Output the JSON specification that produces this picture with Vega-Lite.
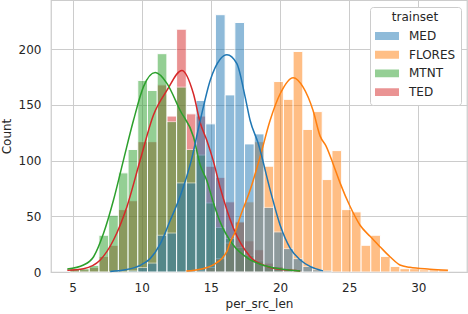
{
  "$schema": "https://vega.github.io/schema/vega-lite/v6.json",
  "width": 416,
  "height": 272,
  "autosize": {"type": "none"},
  "padding": {"left": 51, "top": 0, "right": 1, "bottom": 42},
  "config": {
    "font": "DejaVu Sans",
    "view": {"stroke": "#cccccc", "strokeWidth": 1.25},
    "axis": {
      "domain": false, "ticks": false, "tickSize": 0,
      "gridColor": "#cccccc", "gridWidth": 1,
      "labelFont": "DejaVu Sans", "labelFontSize": 12, "labelColor": "#262626",
      "titleFont": "DejaVu Sans", "titleFontSize": 12, "titleColor": "#262626", "titleFontWeight": "normal"
    }
  },
  "datasets": {
    "hist": [
      {"trainset": "TED", "bin_start": 4.800, "bin_end": 5.502, "count": 2},
      {"trainset": "TED", "bin_start": 5.502, "bin_end": 6.204, "count": 2},
      {"trainset": "TED", "bin_start": 6.204, "bin_end": 6.906, "count": 4},
      {"trainset": "TED", "bin_start": 6.906, "bin_end": 7.608, "count": 14},
      {"trainset": "TED", "bin_start": 7.608, "bin_end": 8.310, "count": 24},
      {"trainset": "TED", "bin_start": 8.310, "bin_end": 9.012, "count": 56},
      {"trainset": "TED", "bin_start": 9.012, "bin_end": 9.714, "count": 64},
      {"trainset": "TED", "bin_start": 9.714, "bin_end": 10.416, "count": 117},
      {"trainset": "TED", "bin_start": 10.416, "bin_end": 11.118, "count": 117},
      {"trainset": "TED", "bin_start": 11.118, "bin_end": 11.820, "count": 168},
      {"trainset": "TED", "bin_start": 11.820, "bin_end": 12.522, "count": 140},
      {"trainset": "TED", "bin_start": 12.522, "bin_end": 13.224, "count": 218},
      {"trainset": "TED", "bin_start": 13.224, "bin_end": 13.926, "count": 142},
      {"trainset": "TED", "bin_start": 13.926, "bin_end": 14.628, "count": 140},
      {"trainset": "TED", "bin_start": 14.628, "bin_end": 15.330, "count": 95},
      {"trainset": "TED", "bin_start": 15.330, "bin_end": 16.032, "count": 85},
      {"trainset": "TED", "bin_start": 16.032, "bin_end": 16.734, "count": 63},
      {"trainset": "TED", "bin_start": 16.734, "bin_end": 17.436, "count": 45},
      {"trainset": "TED", "bin_start": 17.436, "bin_end": 18.138, "count": 28},
      {"trainset": "TED", "bin_start": 18.138, "bin_end": 18.840, "count": 20},
      {"trainset": "TED", "bin_start": 18.840, "bin_end": 19.542, "count": 8},
      {"trainset": "TED", "bin_start": 19.542, "bin_end": 20.244, "count": 5},
      {"trainset": "TED", "bin_start": 20.244, "bin_end": 20.946, "count": 3},
      {"trainset": "TED", "bin_start": 20.946, "bin_end": 21.648, "count": 1},

      {"trainset": "MTNT", "bin_start": 4.800, "bin_end": 5.502, "count": 3},
      {"trainset": "MTNT", "bin_start": 5.502, "bin_end": 6.204, "count": 3},
      {"trainset": "MTNT", "bin_start": 6.204, "bin_end": 6.906, "count": 6},
      {"trainset": "MTNT", "bin_start": 6.906, "bin_end": 7.608, "count": 33},
      {"trainset": "MTNT", "bin_start": 7.608, "bin_end": 8.310, "count": 51},
      {"trainset": "MTNT", "bin_start": 8.310, "bin_end": 9.012, "count": 89},
      {"trainset": "MTNT", "bin_start": 9.012, "bin_end": 9.714, "count": 110},
      {"trainset": "MTNT", "bin_start": 9.714, "bin_end": 10.416, "count": 172},
      {"trainset": "MTNT", "bin_start": 10.416, "bin_end": 11.118, "count": 163},
      {"trainset": "MTNT", "bin_start": 11.118, "bin_end": 11.820, "count": 196},
      {"trainset": "MTNT", "bin_start": 11.820, "bin_end": 12.522, "count": 135},
      {"trainset": "MTNT", "bin_start": 12.522, "bin_end": 13.224, "count": 166},
      {"trainset": "MTNT", "bin_start": 13.224, "bin_end": 13.926, "count": 110},
      {"trainset": "MTNT", "bin_start": 13.926, "bin_end": 14.628, "count": 105},
      {"trainset": "MTNT", "bin_start": 14.628, "bin_end": 15.330, "count": 62},
      {"trainset": "MTNT", "bin_start": 15.330, "bin_end": 16.032, "count": 40},
      {"trainset": "MTNT", "bin_start": 16.032, "bin_end": 16.734, "count": 30},
      {"trainset": "MTNT", "bin_start": 16.734, "bin_end": 17.436, "count": 22},
      {"trainset": "MTNT", "bin_start": 17.436, "bin_end": 18.138, "count": 15},
      {"trainset": "MTNT", "bin_start": 18.138, "bin_end": 18.840, "count": 10},
      {"trainset": "MTNT", "bin_start": 18.840, "bin_end": 19.542, "count": 5},
      {"trainset": "MTNT", "bin_start": 19.542, "bin_end": 20.244, "count": 3},
      {"trainset": "MTNT", "bin_start": 20.244, "bin_end": 20.946, "count": 1},

      {"trainset": "FLORES", "bin_start": 13.224, "bin_end": 13.926, "count": 1},
      {"trainset": "FLORES", "bin_start": 13.926, "bin_end": 14.628, "count": 1},
      {"trainset": "FLORES", "bin_start": 14.628, "bin_end": 15.330, "count": 4},
      {"trainset": "FLORES", "bin_start": 15.330, "bin_end": 16.032, "count": 12},
      {"trainset": "FLORES", "bin_start": 16.032, "bin_end": 16.734, "count": 26},
      {"trainset": "FLORES", "bin_start": 16.734, "bin_end": 17.436, "count": 45},
      {"trainset": "FLORES", "bin_start": 17.436, "bin_end": 18.138, "count": 63},
      {"trainset": "FLORES", "bin_start": 18.138, "bin_end": 18.840, "count": 117},
      {"trainset": "FLORES", "bin_start": 18.840, "bin_end": 19.542, "count": 95},
      {"trainset": "FLORES", "bin_start": 19.542, "bin_end": 20.244, "count": 171},
      {"trainset": "FLORES", "bin_start": 20.244, "bin_end": 20.946, "count": 155},
      {"trainset": "FLORES", "bin_start": 20.946, "bin_end": 21.648, "count": 198},
      {"trainset": "FLORES", "bin_start": 21.648, "bin_end": 22.350, "count": 128},
      {"trainset": "FLORES", "bin_start": 22.350, "bin_end": 23.052, "count": 144},
      {"trainset": "FLORES", "bin_start": 23.052, "bin_end": 23.754, "count": 83},
      {"trainset": "FLORES", "bin_start": 23.754, "bin_end": 24.456, "count": 109},
      {"trainset": "FLORES", "bin_start": 24.456, "bin_end": 25.158, "count": 56},
      {"trainset": "FLORES", "bin_start": 25.158, "bin_end": 25.860, "count": 54},
      {"trainset": "FLORES", "bin_start": 25.860, "bin_end": 26.562, "count": 24},
      {"trainset": "FLORES", "bin_start": 26.562, "bin_end": 27.264, "count": 33},
      {"trainset": "FLORES", "bin_start": 27.264, "bin_end": 27.966, "count": 14},
      {"trainset": "FLORES", "bin_start": 27.966, "bin_end": 28.668, "count": 5},
      {"trainset": "FLORES", "bin_start": 28.668, "bin_end": 29.370, "count": 3},
      {"trainset": "FLORES", "bin_start": 29.370, "bin_end": 30.072, "count": 3},
      {"trainset": "FLORES", "bin_start": 30.072, "bin_end": 30.774, "count": 2},
      {"trainset": "FLORES", "bin_start": 30.774, "bin_end": 31.476, "count": 2},
      {"trainset": "FLORES", "bin_start": 31.476, "bin_end": 32.178, "count": 2},

      {"trainset": "MED", "bin_start": 9.012, "bin_end": 9.714, "count": 1},
      {"trainset": "MED", "bin_start": 9.714, "bin_end": 10.416, "count": 4},
      {"trainset": "MED", "bin_start": 10.416, "bin_end": 11.118, "count": 8},
      {"trainset": "MED", "bin_start": 11.118, "bin_end": 11.820, "count": 33},
      {"trainset": "MED", "bin_start": 11.820, "bin_end": 12.522, "count": 35},
      {"trainset": "MED", "bin_start": 12.522, "bin_end": 13.224, "count": 80},
      {"trainset": "MED", "bin_start": 13.224, "bin_end": 13.926, "count": 80},
      {"trainset": "MED", "bin_start": 13.926, "bin_end": 14.628, "count": 154},
      {"trainset": "MED", "bin_start": 14.628, "bin_end": 15.330, "count": 133},
      {"trainset": "MED", "bin_start": 15.330, "bin_end": 16.032, "count": 231},
      {"trainset": "MED", "bin_start": 16.032, "bin_end": 16.734, "count": 159},
      {"trainset": "MED", "bin_start": 16.734, "bin_end": 17.436, "count": 224},
      {"trainset": "MED", "bin_start": 17.436, "bin_end": 18.138, "count": 115},
      {"trainset": "MED", "bin_start": 18.138, "bin_end": 18.840, "count": 124},
      {"trainset": "MED", "bin_start": 18.840, "bin_end": 19.542, "count": 58},
      {"trainset": "MED", "bin_start": 19.542, "bin_end": 20.244, "count": 36},
      {"trainset": "MED", "bin_start": 20.244, "bin_end": 20.946, "count": 21},
      {"trainset": "MED", "bin_start": 20.946, "bin_end": 21.648, "count": 12},
      {"trainset": "MED", "bin_start": 21.648, "bin_end": 22.350, "count": 5},
      {"trainset": "MED", "bin_start": 22.350, "bin_end": 23.052, "count": 2},
      {"trainset": "MED", "bin_start": 23.052, "bin_end": 23.754, "count": 1}
    ],
    "kde": [
      {"trainset": "TED", "x": 4.62, "count": 1.5},
      {"trainset": "TED", "x": 5.79, "count": 3},
      {"trainset": "TED", "x": 7.0, "count": 10.8},
      {"trainset": "TED", "x": 7.96, "count": 28.7},
      {"trainset": "TED", "x": 8.93, "count": 58.6},
      {"trainset": "TED", "x": 9.89, "count": 100.5},
      {"trainset": "TED", "x": 10.85, "count": 141},
      {"trainset": "TED", "x": 11.82, "count": 163},
      {"trainset": "TED", "x": 12.9, "count": 181},
      {"trainset": "TED", "x": 13.74, "count": 160},
      {"trainset": "TED", "x": 14.23, "count": 134},
      {"trainset": "TED", "x": 14.71, "count": 118},
      {"trainset": "TED", "x": 15.17, "count": 100},
      {"trainset": "TED", "x": 15.67, "count": 76},
      {"trainset": "TED", "x": 16.61, "count": 40},
      {"trainset": "TED", "x": 17.83, "count": 14},
      {"trainset": "TED", "x": 19.07, "count": 5},
      {"trainset": "TED", "x": 20.37, "count": 2},
      {"trainset": "TED", "x": 21.46, "count": 1},

      {"trainset": "MTNT", "x": 4.62, "count": 2.7},
      {"trainset": "MTNT", "x": 5.79, "count": 6.3},
      {"trainset": "MTNT", "x": 6.52, "count": 13.7},
      {"trainset": "MTNT", "x": 7.24, "count": 34.7},
      {"trainset": "MTNT", "x": 7.96, "count": 64.6},
      {"trainset": "MTNT", "x": 8.68, "count": 100.5},
      {"trainset": "MTNT", "x": 9.41, "count": 136.4},
      {"trainset": "MTNT", "x": 10.13, "count": 166.4},
      {"trainset": "MTNT", "x": 10.98, "count": 179},
      {"trainset": "MTNT", "x": 11.82, "count": 169.4},
      {"trainset": "MTNT", "x": 12.78, "count": 145},
      {"trainset": "MTNT", "x": 13.74, "count": 121.5},
      {"trainset": "MTNT", "x": 14.23, "count": 96},
      {"trainset": "MTNT", "x": 14.71, "count": 82},
      {"trainset": "MTNT", "x": 15.19, "count": 62},
      {"trainset": "MTNT", "x": 15.67, "count": 45},
      {"trainset": "MTNT", "x": 16.63, "count": 24},
      {"trainset": "MTNT", "x": 17.6, "count": 13},
      {"trainset": "MTNT", "x": 18.57, "count": 7},
      {"trainset": "MTNT", "x": 19.65, "count": 3.5},
      {"trainset": "MTNT", "x": 20.74, "count": 1.5},
      {"trainset": "MTNT", "x": 21.46, "count": 1},

      {"trainset": "FLORES", "x": 13.22, "count": 0.8},
      {"trainset": "FLORES", "x": 14.23, "count": 2.5},
      {"trainset": "FLORES", "x": 15.17, "count": 6.3},
      {"trainset": "FLORES", "x": 16.18, "count": 19},
      {"trainset": "FLORES", "x": 16.4, "count": 27},
      {"trainset": "FLORES", "x": 16.76, "count": 36},
      {"trainset": "FLORES", "x": 17.12, "count": 49.6},
      {"trainset": "FLORES", "x": 17.84, "count": 73.6},
      {"trainset": "FLORES", "x": 18.56, "count": 103.5},
      {"trainset": "FLORES", "x": 19.28, "count": 136},
      {"trainset": "FLORES", "x": 20.01, "count": 160},
      {"trainset": "FLORES", "x": 20.95, "count": 174.5},
      {"trainset": "FLORES", "x": 21.67, "count": 166},
      {"trainset": "FLORES", "x": 22.39, "count": 145},
      {"trainset": "FLORES", "x": 22.9, "count": 122},
      {"trainset": "FLORES", "x": 23.33, "count": 113},
      {"trainset": "FLORES", "x": 23.84, "count": 97},
      {"trainset": "FLORES", "x": 24.34, "count": 80},
      {"trainset": "FLORES", "x": 25.06, "count": 59},
      {"trainset": "FLORES", "x": 25.79, "count": 42},
      {"trainset": "FLORES", "x": 26.51, "count": 32},
      {"trainset": "FLORES", "x": 27.23, "count": 22.7},
      {"trainset": "FLORES", "x": 27.95, "count": 13.7},
      {"trainset": "FLORES", "x": 28.67, "count": 6.3},
      {"trainset": "FLORES", "x": 29.39, "count": 4.2},
      {"trainset": "FLORES", "x": 30.84, "count": 2.5},
      {"trainset": "FLORES", "x": 32.14, "count": 1.5},

      {"trainset": "MED", "x": 7.72, "count": 0.5},
      {"trainset": "MED", "x": 8.81, "count": 2},
      {"trainset": "MED", "x": 9.89, "count": 6},
      {"trainset": "MED", "x": 10.61, "count": 12},
      {"trainset": "MED", "x": 11.33, "count": 25},
      {"trainset": "MED", "x": 12.05, "count": 46},
      {"trainset": "MED", "x": 12.78, "count": 68},
      {"trainset": "MED", "x": 13.58, "count": 100},
      {"trainset": "MED", "x": 14.23, "count": 136},
      {"trainset": "MED", "x": 14.95, "count": 172},
      {"trainset": "MED", "x": 15.67, "count": 191},
      {"trainset": "MED", "x": 16.16, "count": 195},
      {"trainset": "MED", "x": 16.88, "count": 187},
      {"trainset": "MED", "x": 17.48, "count": 157},
      {"trainset": "MED", "x": 17.84, "count": 136},
      {"trainset": "MED", "x": 18.41, "count": 116},
      {"trainset": "MED", "x": 19.28, "count": 74},
      {"trainset": "MED", "x": 20.01, "count": 42},
      {"trainset": "MED", "x": 20.73, "count": 21.5},
      {"trainset": "MED", "x": 21.45, "count": 11},
      {"trainset": "MED", "x": 22.17, "count": 5},
      {"trainset": "MED", "x": 23.11, "count": 1}
    ]
  },
  "layer": [
    {
      "data": {"name": "hist"},
      "mark": {"type": "bar", "opacity": 0.5, "stroke": "white", "strokeWidth": 1},
      "encoding": {
        "x": {"field": "bin_start", "type": "quantitative",
              "scale": {"domain": [3.44, 33.52], "nice": false, "zero": false},
              "axis": {"values": [5, 10, 15, 20, 25, 30], "title": "per_src_len", "labelPadding": 10, "titlePadding": 5}},
        "x2": {"field": "bin_end"},
        "y": {"field": "count", "type": "quantitative", "stack": null,
              "scale": {"domain": [0, 244.2], "nice": false},
              "axis": {"values": [0, 50, 100, 150, 200], "title": "Count", "labelPadding": 10, "titlePadding": 5}},
        "y2": {"datum": 0},
        "color": {"field": "trainset", "type": "nominal",
                  "scale": {"domain": ["MED", "FLORES", "MTNT", "TED"], "range": ["#1f77b4", "#ff7f0e", "#2ca02c", "#d62728"]},
                  "legend": {"orient": "none", "legendX": 319, "legendY": 7, "title": "trainset",
                             "titleAnchor": "middle", "titleFontWeight": "normal", "titleFontSize": 12, "titleColor": "#262626", "titlePadding": 5,
                             "labelFontSize": 12, "labelColor": "#262626", "labelOffset": 10,
                             "fillColor": "white", "strokeColor": "#cccccc", "cornerRadius": 3, "padding": 5,
                             "symbolType": "M-1,-0.33H1V0.33H-1Z", "symbolSize": 576, "symbolOpacity": 0.5, "symbolStrokeWidth": 0,
                             "rowPadding": 4.7, "clipHeight": 14}}
      }
    },
    {
      "data": {"name": "kde"},
      "mark": {"type": "line", "strokeWidth": 1.5, "interpolate": "monotone"},
      "encoding": {
        "x": {"field": "x", "type": "quantitative"},
        "y": {"field": "count", "type": "quantitative"},
        "color": {"field": "trainset", "type": "nominal", "legend": null}
      }
    }
  ]
}
